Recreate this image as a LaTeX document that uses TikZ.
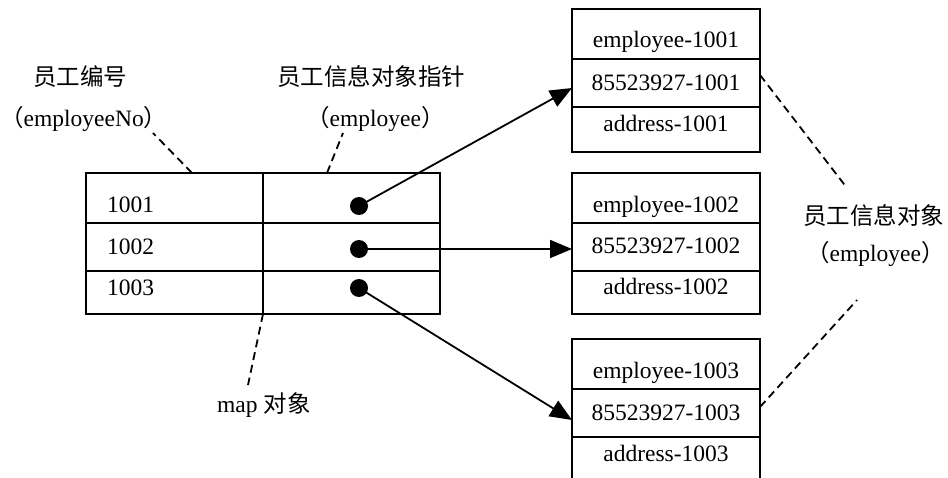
\documentclass[tikz,border=0pt]{standalone}
\usepackage{fontspec}
\setmainfont{Liberation Serif}
\newfontfamily\cjk{Noto Sans CJK SC}
\usetikzlibrary{arrows.meta}
\begin{document}
\begin{tikzpicture}[x=1pt,y=-1pt,
  cell/.style={draw, line width=1.9pt, inner sep=0pt, outer sep=0pt},
  lbl/.style={inner sep=0pt, font=\fontsize{23.5}{28}\selectfont},
  dashline/.style={line width=1.8pt, dash pattern=on 8pt off 5pt},
  arr/.style={line width=1.8pt, -{Triangle[length=22pt,width=18pt]}},
  dot/.style={circle, fill, inner sep=0pt, minimum size=18pt}]
\useasboundingbox (0,0) rectangle (948,478);
\clip (0,0) rectangle (948,478);
% map table
\node[cell,minimum width=177pt,minimum height=50pt] (k1) at (174.5,198) {};
\node[cell,minimum width=177pt,minimum height=50pt] (p1) at (351.5,198) {};
\node[cell,minimum width=177pt,minimum height=48pt] (k2) at (174.5,247) {};
\node[cell,minimum width=177pt,minimum height=48pt] (p2) at (351.5,247) {};
\node[cell,minimum width=177pt,minimum height=43pt] (k3) at (174.5,292.5) {};
\node[cell,minimum width=177pt,minimum height=43pt] (p3) at (351.5,292.5) {};
\node[lbl,anchor=base west] (n1) at (107,213) {1001};
\node[lbl,anchor=base west] (n2) at (107,255) {1002};
\node[lbl,anchor=base west] (n3) at (107,296) {1003};
% employee boxes
\node[cell,minimum width=188pt,minimum height=50pt] (b1a) at (666,34) {};
\node[cell,minimum width=188pt,minimum height=48pt] (b1b) at (666,83) {};
\node[cell,minimum width=188pt,minimum height=45pt] (b1c) at (666,129.5) {};
\node[cell,minimum width=188pt,minimum height=50pt] (b2a) at (666,198) {};
\node[cell,minimum width=188pt,minimum height=48pt] (b2b) at (666,247) {};
\node[cell,minimum width=188pt,minimum height=43pt] (b2c) at (666,292.5) {};
\node[cell,minimum width=188pt,minimum height=50pt] (b3a) at (666,364) {};
\node[cell,minimum width=188pt,minimum height=48pt] (b3b) at (666,413) {};
\node[cell,minimum width=188pt,minimum height=45pt] (b3c) at (666,459.5) {};
\node[lbl,anchor=base] (e1a) at (666,48) {employee-1001};
\node[lbl,anchor=base] (e1b) at (666,91) {85523927-1001};
\node[lbl,anchor=base] (e1c) at (666,132) {address-1001};
\node[lbl,anchor=base] (e2a) at (666,213) {employee-1002};
\node[lbl,anchor=base] (e2b) at (666,254) {85523927-1002};
\node[lbl,anchor=base] (e2c) at (666,295) {address-1002};
\node[lbl,anchor=base] (e3a) at (666,378) {employee-1003};
\node[lbl,anchor=base] (e3b) at (666,420) {85523927-1003};
\node[lbl,anchor=base] (e3c) at (666,461) {address-1003};
% labels
\node[lbl,anchor=base west] (l1) at (33,86) {\cjk 员工编号};
\node[lbl,anchor=base west] (l1e) at (0,127) {{\cjk （}employeeNo{\cjk ）}};
\node[lbl,anchor=base west] (l2) at (277,86) {\cjk 员工信息对象指针};
\node[lbl,anchor=base west] (l2e) at (306,127) {{\cjk （}employee{\cjk ）}};
\node[lbl,anchor=base west] (l3) at (803,225) {\cjk 员工信息对象};
\node[lbl,anchor=base west] (l3e) at (806,262) {{\cjk （}employee{\cjk ）}};
\node[lbl,anchor=base west] (l4) at (217,412) {map {\cjk 对象}};
% dashed leaders
\coordinate (c1a) at (192,173); \coordinate (c1b) at (153,133);
\coordinate (c2a) at (327,173); \coordinate (c2b) at (343,133);
\coordinate (c3a) at (263,314); \coordinate (c3b) at (248,385);
\coordinate (c4a) at (760,75);  \coordinate (c4b) at (847,188);
\coordinate (c5a) at (760,407); \coordinate (c5b) at (857,300);
\draw[dashline] (c1a) -- (c1b);
\draw[dashline] (c2a) -- (c2b);
\draw[dashline] (c3a) -- (c3b);
\draw[dashline] (c4a) -- (c4b);
\draw[dashline] (c5a) -- (c5b);
% pointers
\node[dot] (d1) at (359,206) {};
\node[dot] (d2) at (359,249) {};
\node[dot] (d3) at (359,288) {};
\coordinate (t1) at (572,88);
\coordinate (t2) at (572,249);
\coordinate (t3) at (572,420);
\draw[arr] (d1.center) -- (t1);
\draw[arr] (d2.center) -- (t2);
\draw[arr] (d3.center) -- (t3);
\end{tikzpicture}
\end{document}
